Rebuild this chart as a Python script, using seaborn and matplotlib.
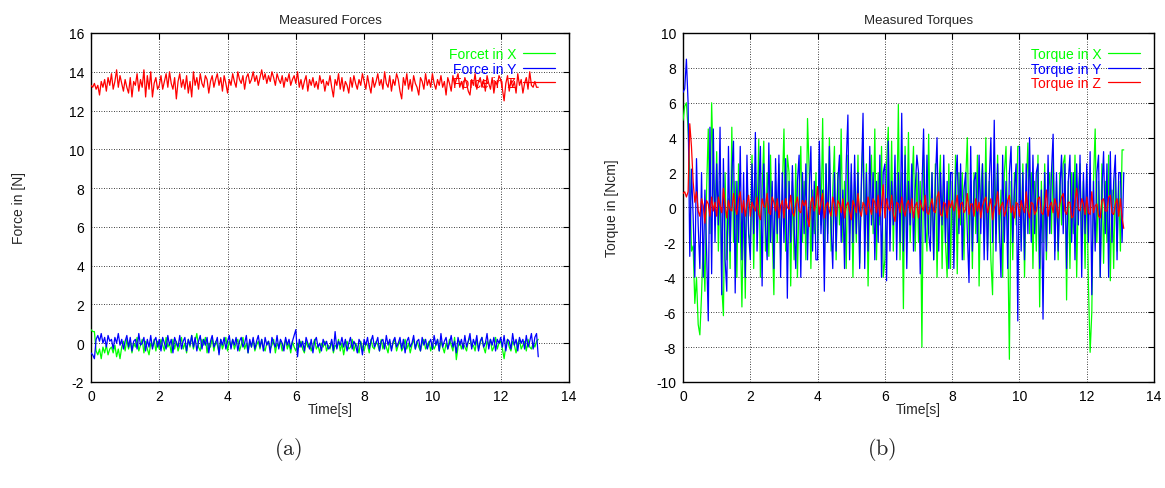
import numpy as np
import pandas as pd
import seaborn as sns
from matplotlib import pyplot as plt


# sample interval of the logged data [s]
DT = 0.05

# Measured forces [N], one row per second
force_x = [0.7, 0.6, 0.6, -0.4, -0.6, -0.3, -0.8, -0.2, -0.5, -0.1, -0.6, -0.3, -0.2, -0.5, -0.1, -0.7, -0.3, -0.8, -0.2, 0.1,
           -0.4, 0.2, -0.3, 0.1, -0.5, 0.0, -0.2, 0.3, -0.4, -0.1, 0.2, -0.5, 0.1, -0.3, -0.6, 0.0, -0.2, 0.2, -0.4, 0.1,
           -0.3, 0.2, -0.1, -0.4, 0.3, -0.2, 0.0, -0.5, 0.2, -0.3, 0.1, -0.4, -0.1, 0.3, -0.3, 0.0, -0.5, 0.2, -0.2, 0.4,
           -0.3, 0.1, 0.5, -0.2, -0.4, 0.2, -0.1, 0.3, -0.5, 0.0, -0.2, 0.3, -0.4, 0.1, -0.1, -0.5, 0.2, -0.3, 0.0, 0.3,
           -0.4, 0.1, -0.2, 0.2, -0.3, 0.0, 0.2, -0.4, -0.1, 0.3, -0.3, 0.0, -0.5, 0.1, -0.2, 0.2, -0.4, -0.1, 0.1, -0.3,
           0.2, -0.2, -0.4, 0.0, 0.1, -0.3, -0.1, 0.2, -0.5, 0.0, -0.2, 0.1, -0.4, -0.1, 0.2, -0.3, 0.0, -0.5, 0.1, -0.2,
           -0.4, 0.0, -0.2, 0.1, -0.3, -0.5, 0.1, -0.2, 0.0, -0.4, -0.1, 0.2, -0.3, -0.1, -0.5, 0.0, -0.2, 0.1, -0.4, -0.1,
           -0.3, 0.1, -0.5, -0.1, -0.2, 0.2, -0.4, 0.0, -0.6, -0.1, 0.1, -0.3, -0.2, 0.2, -0.4, 0.0, -0.2, -0.5, 0.1, -0.2,
           -0.4, 0.0, -0.1, -0.5, 0.2, -0.2, -0.3, 0.1, -0.1, -0.4, 0.2, -0.3, 0.0, -0.2, -0.5, 0.1, -0.3, 0.0, 0.2, -0.4,
           -0.1, 0.1, -0.4, -0.2, 0.2, -0.3, 0.0, -0.5, -0.1, 0.2, -0.3, 0.1, -0.2, -0.4, 0.0, 0.2, -0.3, -0.1, 0.1, -0.4,
           0.0, -0.3, -0.1, 0.2, -0.4, 0.1, -0.2, -0.5, 0.0, -0.3, 0.2, -0.1, -0.4, 0.3, -0.85, -0.2, 0.1, -0.3, 0.0, -0.2,
           -0.4, 0.1, 0.3, -0.2, -0.1, -0.4, 0.2, -0.3, 0.0, 0.3, -0.2, -0.5, 0.1, -0.1, 0.2, -0.4, -0.2, 0.3, -0.3, 0.0,
           0.1, -0.3, -0.8, -0.1, 0.2, -0.2, -0.4, 0.1, -0.1, -0.5, 0.0, 0.2, -0.3, -0.1, 0.1, -0.4, 0.2, -0.2, -0.3, 0.0,
           -0.2, 0.1, 0.2]
force_y = [-0.5, -0.6, -0.8, 0.2, 0.4, 0.1, 0.5, 0.0, 0.3, -0.2, 0.4, 0.1, 0.2, -0.3, 0.3, 0.0, 0.5, -0.1, 0.2, -0.3,
           0.1, 0.4, -0.2, 0.3, -0.4, 0.1, 0.2, -0.3, 0.5, -0.1, 0.0, 0.3, -0.4, 0.2, -0.2, 0.4, -0.3, 0.1, 0.3, -0.2,
           0.2, -0.4, 0.3, 0.0, -0.3, 0.4, -0.1, 0.2, -0.5, 0.3, 0.0, -0.2, 0.4, -0.3, 0.1, 0.3, -0.4, 0.2, -0.1, 0.4,
           -0.2, 0.3, -0.4, 0.1, 0.4, -0.3, 0.2, -0.1, 0.3, -0.5, 0.1, 0.4, -0.2, 0.0, 0.3, -0.6, 0.2, -0.1, 0.3, -0.3,
           0.1, 0.4, -0.3, 0.2, -0.1, 0.3, -0.4, 0.1, 0.3, -0.2, 0.0, 0.4, -0.5, 0.2, -0.2, 0.3, -0.3, 0.1, 0.4, -0.2,
           0.2, -0.4, 0.3, -0.1, 0.1, -0.5, 0.3, 0.0, -0.2, 0.4, -0.3, 0.2, 0.0, -0.4, 0.3, -0.1, 0.2, -0.3, 0.1, 0.4,
           0.7, -0.7, 0.2, -0.2, 0.1, -0.4, 0.3, 0.0, -0.3, 0.2, -0.5, 0.1, 0.3, -0.2, 0.0, -0.4, 0.2, -0.1, 0.1, -0.3,
           -0.2, 0.2, -0.4, 0.6, -0.3, 0.1, -0.1, 0.3, -0.2, 0.2, -0.4, 0.0, 0.3, -0.3, 0.1, -0.1, -0.5, 0.2, 0.0, -0.6,
           0.2, -0.1, 0.3, -0.3, 0.1, 0.4, -0.2, 0.0, 0.3, -0.4, 0.1, 0.2, -0.3, 0.4, -0.1, 0.2, -0.4, 0.1, 0.3, -0.2,
           0.0, 0.3, -0.3, 0.2, -0.5, 0.1, 0.3, -0.2, 0.0, 0.4, -0.3, 0.1, 0.2, -0.4, 0.3, -0.1, 0.2, -0.3, 0.0, 0.2,
           -0.3, 0.4, -0.1, 0.2, -0.4, 0.5, -0.2, 0.1, 0.3, -0.3, 0.0, 0.4, -0.2, 0.1, -0.5, 0.3, -0.1, 0.2, -0.3, 0.4,
           -0.2, 0.1, 0.5, -0.3, 0.2, -0.1, 0.4, -0.4, 0.1, 0.3, -0.2, 0.0, 0.5, -0.3, 0.2, -0.1, 0.3, -0.4, 0.2, 0.0,
           0.3, -0.2, 0.4, -0.4, 0.2, 0.1, -0.3, 0.5, -0.1, 0.2, -0.4, 0.3, 0.0, 0.2, -0.3, 0.4, -0.2, 0.1, 0.5, -0.3,
           0.3, 0.5, -0.7]
force_z = [13.3, 13.2, 13.4, 13.1, 13.3, 12.8, 13.5, 13.2, 13.6, 13.0, 13.7, 13.3, 13.9, 13.1, 13.5, 14.1, 13.2, 13.8, 13.4, 13.0,
           13.6, 13.2, 12.9, 13.7, 12.7, 13.5, 13.3, 13.9, 13.0, 13.6, 13.2, 14.1, 12.7, 13.8, 13.1, 14.0, 12.7, 13.4, 13.7, 13.1,
           13.3, 13.8, 13.1, 13.5, 13.9, 13.2, 14.0, 13.4, 13.1, 13.7, 12.6, 13.5, 13.9, 13.2, 13.6, 13.1, 13.8, 12.9, 13.5, 12.7,
           14.0, 13.3, 13.7, 13.1, 13.9, 13.4, 13.2, 13.8, 13.6, 12.9, 13.5, 13.8, 13.2, 13.6, 13.9, 13.3, 13.7, 13.0, 13.8, 13.4,
           12.9, 13.6, 13.3, 13.9, 13.5, 13.2, 14.0, 13.6, 13.4, 13.8, 13.1, 13.7, 13.9, 13.4, 13.6, 14.0, 13.5, 13.8, 13.3, 13.7,
           14.1, 13.6, 13.9, 13.4, 13.8, 13.5, 14.0, 13.7, 13.3, 13.9, 13.6, 13.4, 13.8, 13.2, 13.7, 13.5, 13.9, 13.3, 13.6, 13.8,
           13.4, 14.0, 13.2, 13.6, 13.1, 13.5, 13.8, 13.0, 13.6, 13.3, 13.7, 13.2, 13.5, 13.1, 13.8, 13.4, 13.6, 13.0, 13.5, 13.3,
           13.8, 13.2, 12.7, 13.6, 13.3, 13.9, 13.1, 13.7, 13.0, 13.5, 13.3, 12.9, 13.7, 13.2, 13.8, 13.4, 13.1, 13.6, 13.3, 13.9,
           13.5, 13.1, 13.8, 13.3, 12.9, 13.7, 13.2, 13.5, 13.9, 13.3, 13.6, 13.1, 14.0, 13.4, 13.2, 13.8, 13.0, 13.6, 13.3, 13.9,
           13.6, 13.0, 12.6, 13.7, 13.3, 13.9, 13.1, 13.6, 13.0, 13.8, 13.4, 13.2, 12.8, 13.7, 13.5, 13.1, 13.9, 13.3, 13.6, 13.2,
           13.9, 13.4, 13.1, 13.6, 13.3, 13.8, 13.2, 13.5, 12.8, 13.7, 13.4, 13.0, 13.8, 13.3, 13.6, 13.9, 13.2, 13.5, 13.1, 13.7,
           13.4, 13.0, 12.8, 13.6, 13.3, 13.9, 13.1, 13.5, 13.7, 13.2, 13.6, 13.0, 13.8, 13.4, 13.1, 13.7, 12.9, 13.5, 13.3, 13.8,
           13.6, 13.1, 12.5, 13.4, 13.8, 13.0, 13.6, 13.2, 13.5, 12.9, 13.9, 13.3, 13.6, 12.9, 13.4, 13.7, 13.1, 14.0, 13.3, 13.2,
           13.5, 13.2, 13.2]

# Measured torques [Ncm], one row per second
torque_x = [5.0, 5.8, 6.0, 4.5, 2.0, -2.5, -2.2, -5.5, -4.0, -6.7, -7.3, -5.0, -2.0, -4.8, 1.0, 4.5, -1.5, 6.0, 2.0, -1.0,
            3.2, -2.5, 1.5, -4.5, -6.2, 2.0, -3.0, 0.5, -3.5, 4.6, -2.0, 1.5, -4.0, 2.5, -1.0, -5.7, 0.5, -5.2, 2.0, -1.5,
            -2.0, 3.0, -3.5, 2.0, -1.0, 3.9, -4.0, 1.0, 3.8, -2.5, 2.0, -2.8, 3.0, -1.5, -5.0, 1.5, -2.0, 2.5, -3.0, 1.0,
            4.5, -2.5, 3.0, 2.0, -4.5, 1.5, -3.0, 2.5, -4.0, 1.0, 3.5, -2.0, 1.5, -3.0, 5.1, 2.0, -3.5, 1.0, -1.5, 2.0,
            -2.0, 3.0, -1.0, 5.1, -3.0, 2.5, -1.5, 4.0, -2.5, 1.0, 3.5, -3.0, 2.0, -1.0, 4.5, -2.0, 1.5, -3.5, 3.0, -1.5,
            2.0, -4.0, 1.5, -2.0, 3.0, -3.2, 1.0, 4.0, -2.0, 2.5, -4.5, 1.0, 3.0, -1.5, 4.5, -3.0, 2.0, -1.0, 3.5, -4.0,
            -3.0, 2.5, 4.6, -1.5, 3.8, -2.5, 2.0, -1.0, 5.9, -3.0, 2.0, -5.8, 3.5, -1.5, 4.3, -2.0, 1.0, 3.5, -2.5, 2.0,
            -2.0, 1.5, -8.0, 3.0, -1.0, -2.5, 4.2, -1.5, 2.0, -3.0, 2.5, -4.0, 1.0, 3.0, -3.5, 1.5, -2.0, -4.0, 2.5, -3.5,
            1.5, -2.5, 3.0, -3.8, 2.0, -1.0, 2.0, -3.0, 1.5, 4.0, -2.0, 1.5, -3.5, 2.0, -1.5, 3.0, -4.5, 1.0, 2.5, -2.0,
            4.0, -2.5, 1.5, -3.0, -5.0, 2.5, -1.5, 3.0, -2.0, 1.0, -4.0, 2.0, 3.5, -1.5, -8.7, 1.5, -3.0, 2.0, -1.0, 3.5,
            3.5, -2.0, 2.5, -4.0, 1.0, 3.7, -1.5, 2.0, -3.5, 1.5, -2.5, 3.0, -5.7, 1.5, -2.0, 2.5, -3.0, 1.0, 2.0, -1.5,
            3.0, -2.5, 1.5, -3.0, 2.0, -1.0, 2.5, 3.0, -5.3, 1.5, -3.5, 2.0, -1.5, 3.0, -4.0, 1.0, 2.5, -2.0, 1.5, -3.5,
            2.0, -4.5, -8.3, -6.0, 1.5, 4.5, -2.0, 1.5, -4.0, 2.5, -3.2, 1.5, -2.0, 3.0, -4.2, 1.0, -3.5, 2.0, -2.5, 1.5,
            -2.5, 3.3, 3.3]
torque_y = [6.6, 6.8, 8.5, 6.0, -2.8, 2.2, -0.5, -4.0, 2.8, -1.0, -3.5, 2.0, -4.0, 1.0, -2.5, -6.5, 4.6, -3.8, 4.5, -2.0,
            2.5, -1.0, 4.6, -5.0, 2.8, -3.0, -4.8, 3.5, -2.5, 2.0, 3.8, -4.9, 1.5, -2.0, 3.5, -3.0, 2.0, -4.0, 3.0, -1.5,
            -3.0, 2.5, -1.5, 4.3, -2.5, 1.0, 3.5, -4.5, 2.5, -1.0, -3.0, 3.7, -2.0, 1.5, -3.5, 2.8, -1.5, 3.0, -4.0, 2.0,
            -2.0, 2.8, -5.2, 1.5, -2.0, 2.4, -1.0, -3.5, 1.5, 3.0, -4.0, 2.0, -1.5, 2.5, -3.0, 1.0, 3.5, -2.5, 1.5, -3.0,
            -3.0, 3.8, -1.5, 1.0, -4.8, 2.5, -2.0, 3.5, -1.0, -3.5, 2.0, -2.5, 1.5, 3.0, -2.0, 1.0, -3.5, 2.5, 5.3, -3.0,
            2.5, -2.0, 3.0, -1.5, 2.0, -3.5, 1.5, 5.4, -3.5, 2.0, -2.5, 3.5, -1.0, 2.0, -3.0, 1.5, -2.0, 3.0, -4.0, 2.0,
            2.5, -4.2, 3.8, -2.5, 1.5, -1.0, 3.0, -3.0, 2.0, -2.0, 5.4, -2.5, 3.0, -3.5, 1.5, -1.0, 2.5, -2.5, 1.0, 3.0,
            2.0, -3.8, 1.0, 4.5, -2.0, 3.0, -1.5, -2.5, 2.0, -3.0, 1.5, 4.0, -2.5, 2.0, -1.0, 3.0, -2.0, 1.5, -3.5, 2.0,
            2.0, -3.5, 1.5, 3.0, -1.5, 2.5, -3.0, 1.0, 2.0, -1.5, -4.3, 3.5, -2.5, 1.5, 2.0, -2.0, 3.0, -1.5, 2.5, -3.0,
            2.0, -3.0, 1.5, 4.0, -2.0, 5.0, -2.5, 2.5, -1.0, -4.0, 3.0, -2.0, 1.5, -3.5, 2.0, 3.5, -2.0, 1.0, 2.5, -6.5,
            3.5, -2.5, 2.0, -3.0, 2.5, -1.5, 4.0, -2.0, 3.0, -1.5, 2.0, 2.5, -3.5, 1.0, -6.4, 2.0, -2.5, 3.0, -1.5, 2.0,
            4.2, -3.0, 2.0, -2.5, 1.0, 3.0, -1.5, 2.5, -3.5, 1.5, 3.0, -2.0, 2.0, -3.0, 2.5, -1.0, 3.0, -4.0, 2.0, -1.5,
            2.5, -2.0, 3.2, -5.0, 1.5, -2.5, 2.0, 3.0, -4.0, 1.0, 3.2, -1.5, 2.5, -4.0, 3.2, -2.0, 1.5, 3.0, -3.0, 2.0,
            2.0, -2.0, 2.0]
torque_z = [0.8, 0.9, 0.6, 0.9, 4.8, 3.5, 1.5, 0.3, 0.9, -0.2, -0.5, 0.5, 0.1, -0.9, 0.4, 0.2, -0.5, 0.6, -0.2, 0.3,
            -0.5, 0.6, 0.1, -0.3, 1.1, 0.2, -0.6, 0.4, -0.1, -0.2, 0.8, 0.0, -0.4, 0.5, 0.9, -0.3, 0.4, -0.5, 0.2, 0.7,
            -0.5, 0.3, 0.0, -0.2, 0.6, -0.4, -0.7, 0.5, 0.1, 0.0, 0.8, -0.3, -0.4, 0.6, 0.3, -0.2, 0.5, -0.6, 0.1, 0.4,
            -0.6, 0.5, 0.0, -0.1, 0.7, -0.3, -0.5, 0.2, 0.6, -0.2, -0.3, 0.4, 0.1, 0.4, -0.6, -1.1, 0.3, 0.6, -0.2, 0.2,
            1.2, -0.4, 0.3, 0.8, -0.6, 0.1, 0.3, -0.2, -0.5, 0.6, 0.2, -0.5, 0.4, 0.2, -0.3, 0.5, -0.6, 0.1, 0.3, -0.2,
            -0.7, 0.4, 0.1, -0.3, 0.8, -0.2, -0.5, 0.3, 0.1, -0.4, 0.6, 0.0, -0.4, 0.5, 0.3, -0.3, 0.7, -0.5, 0.2, 1.3,
            -0.6, 0.5, 0.0, -0.2, 0.7, -0.4, -0.8, 0.3, 0.2, -0.3, 0.6, -0.1, -0.5, 0.2, 0.4, -0.3, 0.5, -0.6, 0.1, 0.3,
            -0.6, 0.4, 0.0, -0.2, 0.7, -0.3, -0.4, 0.1, 0.5, -0.2, -0.3, 0.6, 0.9, -0.4, -0.5, 0.3, 0.2, -0.6, 0.4, 0.0,
            0.4, -0.2, 0.1, 0.7, -0.6, 0.2, 0.3, -0.3, -0.1, 0.8, -0.4, 0.2, 0.2, -0.5, 0.5, -0.2, 0.3, -0.6, 0.1, 0.4,
            0.6, -0.3, 0.1, 0.5, -0.7, 0.0, 0.2, 0.9, -0.4, 0.1, 0.3, -0.5, -0.2, 0.4, 0.7, -0.3, 0.1, -0.6, 0.3, 0.2,
            -0.5, 0.4, 0.0, -0.3, 0.9, -0.2, -0.6, 0.3, 0.2, -0.4, -0.2, 0.5, 0.6, -0.3, -0.4, 0.2, 1.0, -0.5, 0.1, 0.3,
            -0.3, 0.5, 0.1, -0.6, 0.2, 0.6, 0.8, -0.2, -0.4, 0.3, 0.3, -0.6, -0.5, 0.4, 1.1, -0.1, -0.2, 0.5, 0.2, -0.4,
            0.6, -0.3, -0.4, 0.9, -0.3, 0.1, 0.2, -0.5, -0.6, 0.4, 0.5, -0.2, -0.2, 0.6, 0.7, -0.3, -0.4, 0.2, 0.5, -0.5,
            0.5, -0.6, -1.2]

force_labels = ['Forcet in X', 'Force in Y', 'Force in Z']
torque_labels = ['Torque in X', 'Torque in Y', 'Torque in Z']
captions = ['(a)', '(b)']
colors = ['#00ff00', '#0000ff', '#ff0000']


def draw_panel(ax, series, labels, title, ylabel, ylim, ystep):
    for vals, lab, col in zip(series, labels, colors):
        df = pd.DataFrame({'t': np.arange(len(vals)) * DT, 'v': vals})
        sns.lineplot(data=df, x='t', y='v', ax=ax, color=col, label=lab,
                     linewidth=0.9, zorder=3)

    ax.set_xlim(0, 14)
    ax.set_ylim(*ylim)
    ax.set_xticks(np.arange(0, 15, 2))
    ax.set_yticks(np.arange(ylim[0], ylim[1] + 1, ystep))
    ax.tick_params(direction='in', length=4, width=0.8, top=True, right=True,
                   labelsize=10, pad=5, colors='black')
    ax.grid(True, color='black', linestyle=(0, (1, 2)), linewidth=0.6)
    for sp in ax.spines.values():
        sp.set_color('black')
        sp.set_linewidth(1.0)

    ax.set_title(title, fontsize=9.5, pad=7)
    ax.set_xlabel('Time[s]', fontsize=10)
    ax.set_ylabel(ylabel, fontsize=10)
    ax.xaxis.set_label_coords(0.5, -0.058)
    ax.yaxis.set_label_coords(-0.135, 0.5)

    leg = ax.legend(loc='upper right', frameon=False, markerfirst=False,
                    labelcolor='linecolor', fontsize=10, handlelength=2.3,
                    handletextpad=0.5, labelspacing=0.05,
                    borderaxespad=0.6)
    leg.set_zorder(2)


sns.set_style('white')
plt.rcParams['font.family'] = ['Liberation Sans', 'DejaVu Sans']
plt.rcParams['axes.unicode_minus'] = False
plt.rcParams['mathtext.fontset'] = 'cm'

fig = plt.figure(figsize=(11.65, 4.89), dpi=100)
ax1 = fig.add_axes([0.0781, 0.2168, 0.4103, 0.7137])
ax2 = fig.add_axes([0.5863, 0.2168, 0.4043, 0.7137])

draw_panel(ax1, [force_x, force_y, force_z], force_labels,
           'Measured Forces', 'Force in [N]', (-2, 16), 2)
draw_panel(ax2, [torque_x, torque_y, torque_z], torque_labels,
           'Measured Torques', 'Torque in [Ncm]', (-10, 10), 2)

# sub-figure captions in LaTeX style
for cx, cap in zip([288 / 1165, 882 / 1165], captions):
    fig.text(cx, 1 - 450 / 489, r'$\mathrm{' + cap + '}$', ha='center',
             va='center', fontsize=16)

fig.savefig('out.png', dpi=100)
